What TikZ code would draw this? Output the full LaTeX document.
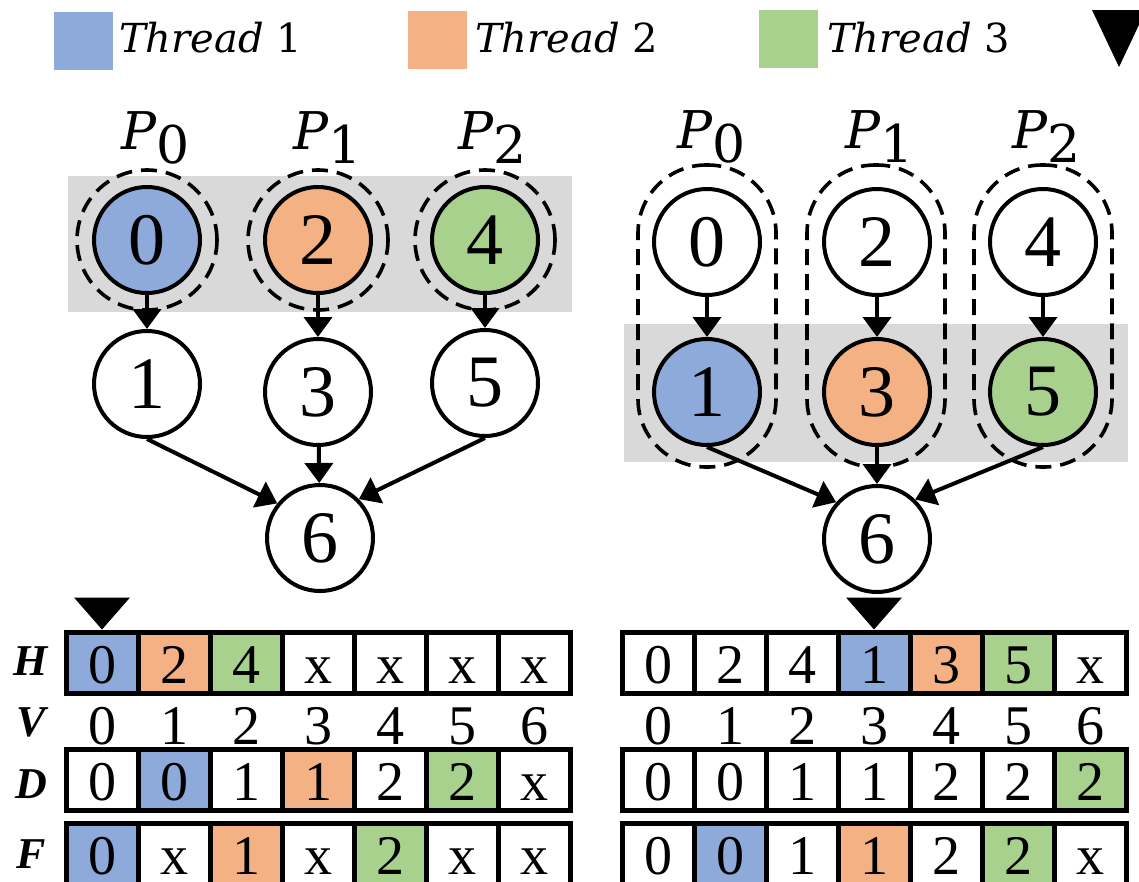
\documentclass[tikz,border=0pt]{standalone}
\usepackage{fontspec}
\setmainfont{Liberation Serif}
\newfontfamily\numfont{Liberation Serif}
\newfontfamily\mathlike{DejaVu Serif}
\usetikzlibrary{arrows.meta}

\definecolor{tblue}{HTML}{8EAADB}
\definecolor{torange}{HTML}{F4B183}
\definecolor{tgreen}{HTML}{A9D18E}
\definecolor{hlgray}{HTML}{D9D9D9}

\begin{document}
\begin{tikzpicture}[x=1pt, y=-1pt,
  vertex/.style={circle, draw, line width=4pt, minimum size=106pt, inner sep=0pt,
    font=\numfont\fontsize{74}{74}\selectfont},
  ring/.style={circle, draw, line width=3.6pt, dash pattern=on 16pt off 9pt,
    minimum size=140pt, inner sep=0pt},
  capsule/.style={rectangle, rounded corners=68pt, draw, line width=3.6pt,
    dash pattern=on 16pt off 9pt, minimum width=138pt, minimum height=302pt, inner sep=0pt},
  edge/.style={line width=4pt, -{Triangle[length=20pt,width=28pt]}},
  cellbox/.style={rectangle, draw, line width=5pt, minimum width=72pt, inner xsep=0pt,
    inner ysep=0pt, text height=51pt, text depth=10pt, anchor=base,
    font=\numfont\fontsize{56}{56}\selectfont},
  idx/.style={anchor=base, inner sep=0pt, font=\numfont\fontsize{56}{56}\selectfont},
  rowlab/.style={anchor=base, inner sep=0pt, font=\numfont\fontsize{44}{44}\selectfont\bfseries\itshape},
  keybox/.style={anchor=north west, inner sep=0pt, minimum width=59pt, minimum height=58pt},
  legtext/.style={anchor=base west, inner sep=0pt, font=\mathlike\fontsize{40}{40}\selectfont},
  plab/.style={anchor=base west, inner sep=0pt, font=\mathlike\fontsize{52}{52}\selectfont},
  pointer/.style={fill=black}
]
\clip (0,0) rectangle (1139,881);

% ---- legend ----
\node[keybox, fill=tblue] (key1) at (54,12) {};
\node[legtext] (lab1) at (119,52) {{\itshape Thread} 1};
\node[keybox, fill=torange] (key2) at (408,11) {};
\node[legtext] (lab2) at (475,52) {{\itshape Thread} 2};
\node[keybox, fill=tgreen] (key3) at (759,10) {};
\node[legtext] (lab3) at (827,52) {{\itshape Thread} 3};
\fill[pointer] (1092,10) -- (1146,10) -- (1119,67) -- cycle;

% ---- left graph: frontier on the first level ----
\fill[hlgray] (68,176) rectangle (572,312);
\node[ring] (lr0) at (147,240) {};
\node[ring] (lr1) at (318,240) {};
\node[ring] (lr2) at (485,240) {};

\node[plab] (lp0) at (121,149) {{\itshape P}\raisebox{-14pt}{0}};
\node[plab] (lp1) at (293,149) {{\itshape P}\raisebox{-14pt}{1}};
\node[plab] (lp2) at (458,149) {{\itshape P}\raisebox{-14pt}{2}};

\node[vertex, fill=tblue] (l0) at (147,240) {0};
\node[vertex, fill=torange] (l2) at (318,240) {2};
\node[vertex, fill=tgreen] (l4) at (485,240) {4};
\node[vertex, fill=white] (l1) at (147,384) {1};
\node[vertex, fill=white] (l3) at (318,392) {3};
\node[vertex, fill=white] (l5) at (485,383) {5};
\node[vertex, fill=white] (l6) at (320,538) {6};

\draw[edge] (l0) -- (l1);
\draw[edge] (l2) -- (l3);
\draw[edge] (l4) -- (l5);
\draw[edge] (l3) -- (l6);
\draw[edge] (l1.south) -- (l6.141);
\draw[edge] (l5.south) -- (l6.45);

% ---- right graph: frontier on the second level ----
\fill[hlgray] (624,324) rectangle (1128,462);
\node[capsule] (rc0) at (707,316) {};
\node[capsule] (rc1) at (876,316) {};
\node[capsule] (rc2) at (1043,316) {};

\node[plab] (rp0) at (677,148) {{\itshape P}\raisebox{-14pt}{0}};
\node[plab] (rp1) at (845,148) {{\itshape P}\raisebox{-14pt}{1}};
\node[plab] (rp2) at (1012,148) {{\itshape P}\raisebox{-14pt}{2}};

\node[vertex, fill=white] (r0) at (707,242) {0};
\node[vertex, fill=white] (r2) at (877,242) {2};
\node[vertex, fill=white] (r4) at (1043,242) {4};
\node[vertex, fill=tblue] (r1) at (707,392) {1};
\node[vertex, fill=torange] (r3) at (877,392) {3};
\node[vertex, fill=tgreen] (r5) at (1043,392) {5};
\node[vertex, fill=white] (r6) at (877,539) {6};

\draw[edge] (r0) -- (r1);
\draw[edge] (r2) -- (r3);
\draw[edge] (r4) -- (r5);
\draw[edge] (r3) -- (r6);
\draw[edge] (r1.south) -- (r6.138);
\draw[edge] (r5.south) -- (r6.46);

% ---- row labels ----
\node[rowlab] (labH) at (31,675) {H};
\node[rowlab] (labV) at (31,736) {V};
\node[rowlab] (labD) at (31,798) {D};
\node[rowlab] (labF) at (31,868) {F};

% ---- left arrays ----
\foreach \v/\c [count=\i from 0] in {0/tblue,2/torange,4/tgreen,x/white,x/white,x/white,x/white}
  \node[cellbox, fill=\c] (lh\i) at (102+72*\i,683) {\v};
\foreach \i in {0,...,6}
  \node[idx] (lv\i) at (102+72*\i,744) {\i};
\foreach \v/\c [count=\i from 0] in {0/white,0/tblue,1/white,1/torange,2/white,2/tgreen,x/white}
  \node[cellbox, fill=\c] (ld\i) at (102+72*\i,800) {\v};
% last row runs past the lower edge: boxes and their entries are separate nodes
\foreach \v/\c [count=\i from 0] in {0/tblue,x/white,1/torange,x/white,2/tgreen,x/white,x/white}{
  \node[cellbox, fill=\c] (lf\i) at (102+72*\i,874) {};
  \node[idx] (lft\i) at (lf\i.base) {\v};
}
\fill[pointer] (lh0.north) -- ++(-28pt,32pt) -- ++(56pt,0pt) -- cycle;

% ---- right arrays ----
\foreach \v/\c [count=\i from 0] in {0/white,2/white,4/white,1/tblue,3/torange,5/tgreen,x/white}
  \node[cellbox, fill=\c] (rh\i) at (658+72*\i,683) {\v};
\foreach \i in {0,...,6}
  \node[idx] (rv\i) at (658+72*\i,744) {\i};
\foreach \v/\c [count=\i from 0] in {0/white,0/white,1/white,1/white,2/white,2/white,2/tgreen}
  \node[cellbox, fill=\c] (rd\i) at (658+72*\i,800) {\v};
\foreach \v/\c [count=\i from 0] in {0/white,0/tblue,1/white,1/torange,2/white,2/tgreen,x/white}{
  \node[cellbox, fill=\c] (rf\i) at (658+72*\i,874) {};
  \node[idx] (rft\i) at (rf\i.base) {\v};
}
\fill[pointer] (rh3.north) -- ++(-28pt,32pt) -- ++(56pt,0pt) -- cycle;
\end{tikzpicture}
\end{document}
